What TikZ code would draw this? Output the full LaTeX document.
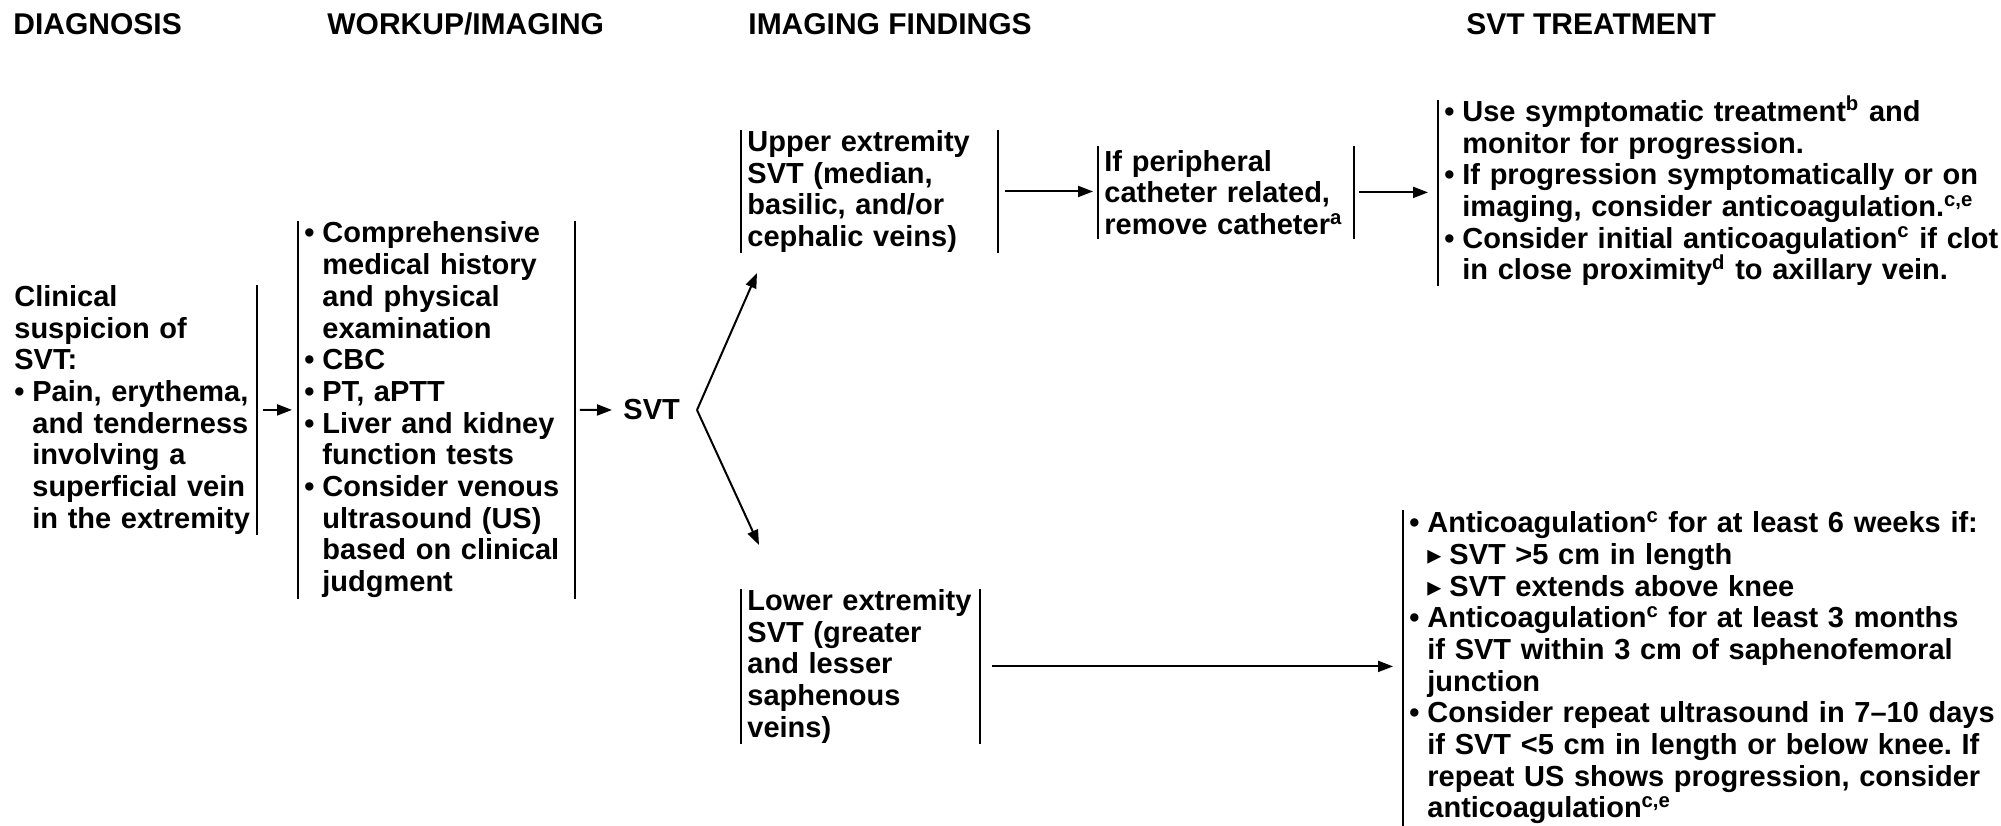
\documentclass[tikz,border=0pt]{standalone}
\usepackage{fontspec}
\setmainfont{Liberation Sans}
\newfontfamily\symfont{DejaVu Sans}
\usetikzlibrary{arrows.meta}

\newcommand{\bul}{\makebox[9pt][l]{•}}
\newcommand{\ind}{\hspace*{9pt}}
\newcommand{\sub}{\ind\makebox[11pt][l]{\symfont\fontsize{14pt}{14pt}\selectfont ▸}}
\newcommand{\fn}[1]{\smash{\textsuperscript{#1}}}

\begin{document}
\frenchspacing
\begin{tikzpicture}[x=0.5pt,y=-0.5pt,
  every node/.style={font=\fontsize{14.5pt}{15.85pt}\selectfont\bfseries, inner ysep=0pt, inner xsep=3pt},
  head/.style={anchor=base west, inner sep=0pt, font=\fontsize{15pt}{16pt}\selectfont\bfseries},
  box/.style={anchor=north west, align=left},
  arr/.style={-{Triangle[length=7.5pt,width=5.5pt]}, line width=1pt},
  brk/.style={line width=1.1pt}]

\useasboundingbox (0,0) rectangle (2001,825);

\node [head] (hdiag) at (13,34) {DIAGNOSIS};
\node [head] (hwork) at (327,34) {WORKUP/IMAGING};
\node [head] (himg) at (748,34) {IMAGING FINDINGS};
\node [head] (htreat) at (1466,34) {SVT TREATMENT};

\node [box, text width=118pt, minimum height=124.5pt] (diag) at (8,285)
  {Clinical\\ suspicion of\\ SVT:\\ \bul Pain, erythema,\\ \ind and tenderness\\ \ind involving a\\ \ind superficial vein\\ \ind in the extremity};

\node [box, text width=132pt, minimum height=188.5pt] (work) at (298,221)
  {\bul Comprehensive\\ \ind medical history\\ \ind and physical\\ \ind examination\\ \bul CBC\\ \bul PT, aPTT\\ \bul Liver and kidney\\ \ind function tests\\ \bul Consider venous\\ \ind ultrasound (US)\\ \ind based on clinical\\ \ind judgment};

\node [anchor=west] (svt) at (617,410) {SVT};
\coordinate (fork) at (697,410);
\coordinate (uptip) at (757,273);
\coordinate (lowtip) at (759,545);

\node [box, text width=122pt, minimum height=61pt] (up) at (741,130)
  {Upper extremity\\ SVT (median,\\ basilic, and/or\\ cephalic veins)};

\node [box, text width=121.5pt, minimum height=46pt] (cath) at (1098,146)
  {If peripheral\\ catheter related,\\ remove catheter\fn{a}};

\node [box, text width=280pt, minimum height=92.5pt] (uptreat) at (1438,100)
  {\bul Use symptomatic treatment\fn{b} and\\ \ind monitor for progression.\\ \bul If progression symptomatically or on\\ \ind imaging, consider anticoagulation.\fn{c,e}\\ \bul Consider initial anticoagulation\fn{c} if clot\\ \ind in close proximity\fn{d} to axillary vein.};

\node [box, text width=113pt, minimum height=77pt] (low) at (741,589)
  {Lower extremity\\ SVT (greater\\ and lesser\\ saphenous\\ veins)};

\node [box, text width=300pt, minimum height=157.5pt] (lowtreat) at (1403,510)
  {\bul Anticoagulation\fn{c} for at least 6 weeks if:\\ \sub SVT >5 cm in length\\ \sub SVT extends above knee\\ \bul Anticoagulation\fn{c} for at least 3 months\\ \ind if SVT within 3 cm of saphenofemoral\\ \ind junction\\ \bul Consider repeat ultrasound in 7--10 days\\ \ind if SVT <5 cm in length or below knee. If\\ \ind repeat US shows progression, consider\\ \ind anticoagulation\fn{c,e}};

% bracket lines
\draw [brk] (diag.north east) -- (diag.south east);
\foreach \n in {work,up,cath,low}
  \draw [brk] (\n.north west) -- (\n.south west) (\n.north east) -- (\n.south east);
\draw [brk] (uptreat.north west) -- (uptreat.south west);
\draw [brk] (lowtreat.north west) -- (lowtreat.south west);

% arrows
\draw [arr, shorten <=3pt, shorten >=3pt] (diag.east) -- (diag.east -| work.west);
\draw [arr, shorten <=2.5pt, shorten >=2.5pt] (work.east) -- (svt.west);
\draw [arr] (fork) -- (uptip);
\draw [arr] (fork) -- (lowtip);
\draw [arr, shorten <=3.5pt, shorten >=2.5pt] (up.east) -- (up.east -| cath.west);
\draw [arr, shorten <=2.5pt, shorten >=5pt] (cath.east) -- (cath.east -| uptreat.west);
\draw [arr, shorten <=6pt, shorten >=5pt] (low.east) -- (low.east -| lowtreat.west);

\end{tikzpicture}
\end{document}
